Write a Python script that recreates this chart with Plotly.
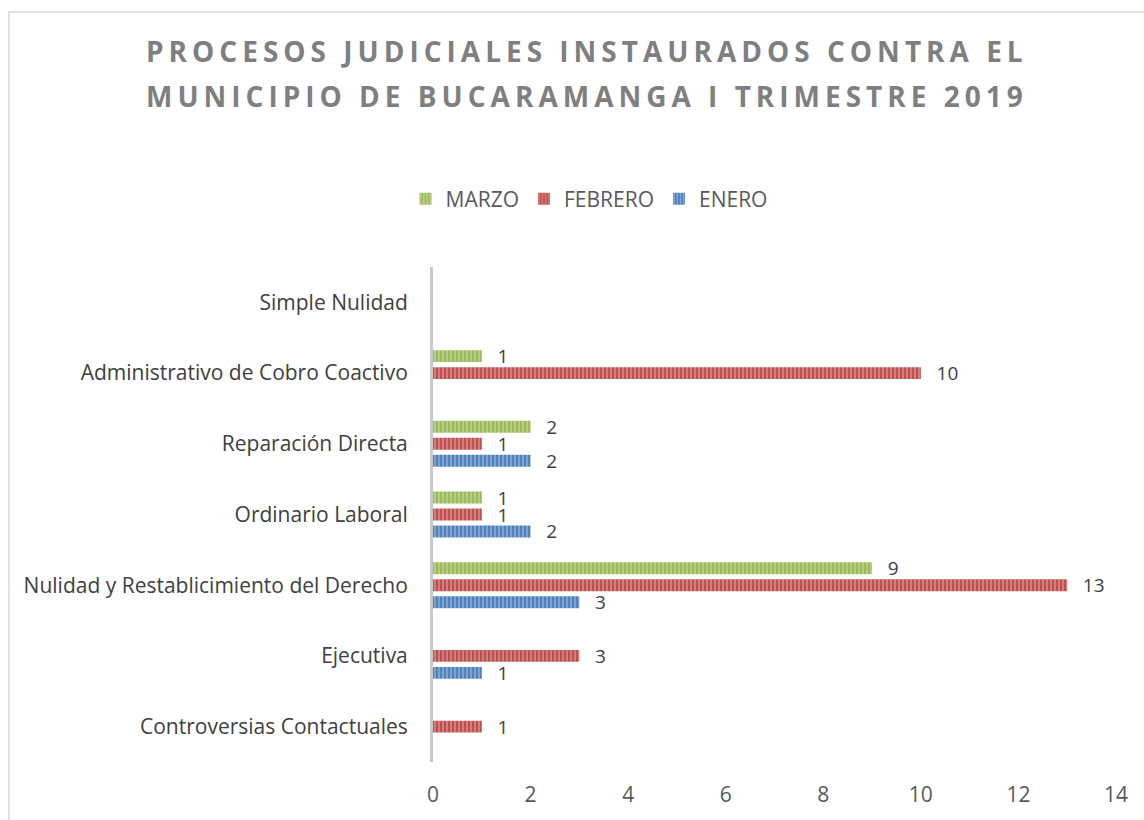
import plotly.graph_objects as go

categories = ["Controversias Contactuales", "Ejecutiva", "Nulidad y Restablicimiento del Derecho",
              "Ordinario Laboral", "Reparación Directa", "Administrativo de Cobro Coactivo", "Simple Nulidad"]
enero = [None, 1, 3, 2, 2, None, None]
febrero = [1, 3, 13, 1, 1, 10, None]
marzo = [None, None, 9, 1, 2, 1, None]
x_ticks = [0, 2, 4, 6, 8, 10, 12, 14]
title_lines = ["PROCESOS JUDICIALES INSTAURADOS CONTRA EL", "MUNICIPIO DE BUCARAMANGA I TRIMESTRE 2019"]

series = [("ENERO", enero, "#4F81BD"), ("FEBRERO", febrero, "#C0504D"), ("MARZO", marzo, "#9BBB59")]
FONT = "Open Sans, Liberation Sans, sans-serif"

fig = go.Figure()
for name, vals, col in series:
    fig.add_trace(go.Bar(
        y=categories, x=vals, name=name, orientation="h",
        marker=dict(color=col, line=dict(width=0),
                    pattern=dict(shape="|", size=4, solidity=0.3, fgcolor="white", fgopacity=0.45)),
        text=[None if v is None else str(v) for v in vals],
        texttemplate="\u2002\u2009%{text}",
        textposition="outside", cliponaxis=False, constraintext="none",
        textfont=dict(size=19, color="#404040", family=FONT),
    ))

annotations = []
for i, line in enumerate(title_lines):
    annotations.append(dict(
        text=f'<b><span style="letter-spacing:5px">{line}</span></b>',
        xref="paper", yref="paper", showarrow=False,
        x=(587 - 433) / 683, xanchor="center",
        y=1 + (267 - (50 + 45 * i)) / 497, yanchor="middle",
        font=dict(size=28, color="#7f7f7f", family=FONT),
    ))

fig.update_layout(
    width=1144, height=820,
    paper_bgcolor="white", plot_bgcolor="white",
    margin=dict(l=433, r=28, t=267, b=56),
    barmode="group", bargap=0.28, bargroupgap=0.3,
    font=dict(family=FONT, color="#595959", size=21),
    annotations=annotations,
    legend=dict(orientation="h", traceorder="reversed",
                x=589 / 1144, xref="container", xanchor="center",
                y=1 - 199 / 820, yref="container", yanchor="middle",
                font=dict(size=21, color="#595959"), itemwidth=30),
    xaxis=dict(range=[0, 14], tickvals=x_ticks, showgrid=False, zeroline=False, showline=False,
               ticks="outside", ticklen=14, tickcolor="rgba(0,0,0,0)",
               tickfont=dict(size=21, color="#595959")),
    yaxis=dict(categoryorder="array", categoryarray=categories, showgrid=False, zeroline=False,
               showline=True, linecolor="#c8c8c8", linewidth=3,
               ticks="outside", ticklen=18, tickcolor="rgba(0,0,0,0)",
               tickfont=dict(size=21, color="#404040")),
    shapes=[dict(type="rect", xref="paper", yref="paper",
                 x0=(9 - 433) / 683, x1=1.2, y0=-0.2, y1=1 + (267 - 11) / 497,
                 line=dict(color="#d9d9d9", width=1.5), fillcolor="rgba(0,0,0,0)", layer="below")],
)

fig.write_html("out.html", config={"displayModeBar": False},
               post_script="document.body.style.margin='0';")
